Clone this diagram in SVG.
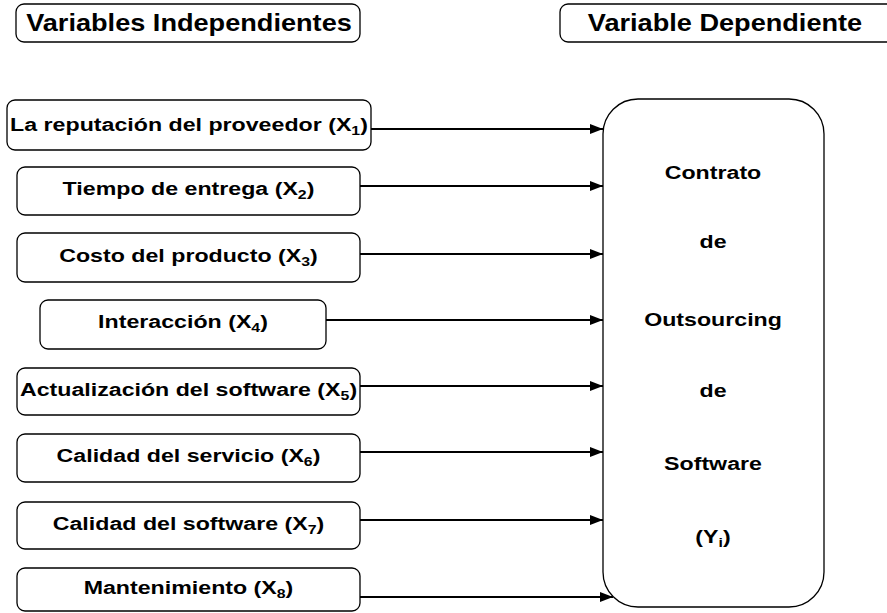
<svg xmlns="http://www.w3.org/2000/svg" width="887" height="613" viewBox="0 0 887 613">
<style>
.box{fill:#fff;stroke:#000;stroke-width:1.3}
.t{font-family:"Liberation Sans",Arial,sans-serif;font-weight:bold;font-size:19px;fill:#000;text-anchor:middle}
.h{font-size:23px}
.s{font-size:13px}
.c{stroke:#000;stroke-width:2;fill:none;marker-end:url(#ah)}
</style>
<defs>
<marker id="ah" viewBox="0 0 13 10" refX="13" refY="5" markerWidth="13" markerHeight="10" markerUnits="userSpaceOnUse" orient="auto">
<path d="M0,0 L13,5 L0,10 Z" fill="#000"/>
</marker>
</defs>
<rect width="887" height="613" fill="#fff"/>
<g id="title-indep">
<rect class="box" x="16" y="4" width="344" height="38" rx="8"/>
<text class="t h" transform="translate(189 31) scale(1.18 1)">Variables Independientes</text>
</g>
<g id="title-dep">
<rect class="box" x="560" y="4" width="340" height="38" rx="8"/>
<text class="t h" transform="translate(725 31) scale(1.18 1)">Variable Dependiente</text>
</g>
<g id="connectors">
<line class="c" x1="371" y1="129" x2="603" y2="129"/>
<line class="c" x1="360" y1="186" x2="603" y2="186"/>
<line class="c" x1="360" y1="254" x2="603" y2="254"/>
<line class="c" x1="326" y1="320" x2="603" y2="320"/>
<line class="c" x1="360" y1="386" x2="603" y2="386"/>
<line class="c" x1="360" y1="452" x2="603" y2="452"/>
<line class="c" x1="360" y1="520" x2="603" y2="520"/>
<line class="c" x1="360" y1="597" x2="613" y2="597"/>
</g>
<g id="x1">
<rect class="box" x="7" y="100" width="364" height="50" rx="8"/>
<text class="t" transform="translate(189 131) scale(1.22 1)">La reputación del proveedor (X<tspan class="s" dy="4">1</tspan><tspan dy="-4">)</tspan></text>
</g>
<g id="x2">
<rect class="box" x="17" y="167" width="343" height="48" rx="8"/>
<text class="t" transform="translate(188.5 195) scale(1.22 1)">Tiempo de entrega (X<tspan class="s" dy="4">2</tspan><tspan dy="-4">)</tspan></text>
</g>
<g id="x3">
<rect class="box" x="17" y="233" width="343" height="49" rx="8"/>
<text class="t" transform="translate(188.5 262) scale(1.22 1)">Costo del producto (X<tspan class="s" dy="4">3</tspan><tspan dy="-4">)</tspan></text>
</g>
<g id="x4">
<rect class="box" x="40" y="300" width="286" height="49" rx="8"/>
<text class="t" transform="translate(183 328) scale(1.22 1)">Interacción (X<tspan class="s" dy="4">4</tspan><tspan dy="-4">)</tspan></text>
</g>
<g id="x5">
<rect class="box" x="17" y="368" width="343" height="47" rx="8"/>
<text class="t" transform="translate(188.5 396) scale(1.22 1)">Actualización del software (X<tspan class="s" dy="4">5</tspan><tspan dy="-4">)</tspan></text>
</g>
<g id="x6">
<rect class="box" x="17" y="434" width="343" height="48" rx="8"/>
<text class="t" transform="translate(188.5 462) scale(1.22 1)">Calidad del servicio (X<tspan class="s" dy="4">6</tspan><tspan dy="-4">)</tspan></text>
</g>
<g id="x7">
<rect class="box" x="17" y="502" width="343" height="47" rx="8"/>
<text class="t" transform="translate(188.5 530) scale(1.22 1)">Calidad del software (X<tspan class="s" dy="4">7</tspan><tspan dy="-4">)</tspan></text>
</g>
<g id="x8">
<rect class="box" x="17" y="568" width="343" height="43" rx="8"/>
<text class="t" transform="translate(188.5 594) scale(1.22 1)">Mantenimiento (X<tspan class="s" dy="4">8</tspan><tspan dy="-4">)</tspan></text>
</g>
<g id="y">
<rect class="box" x="603" y="99" width="221" height="508" rx="35"/>
<text class="t" transform="translate(713 179) scale(1.22 1)">Contrato</text>
<text class="t" transform="translate(713 248) scale(1.22 1)">de</text>
<text class="t" transform="translate(713 326) scale(1.22 1)">Outsourcing</text>
<text class="t" transform="translate(713 397) scale(1.22 1)">de</text>
<text class="t" transform="translate(713 470) scale(1.22 1)">Software</text>
<text class="t" transform="translate(713 543) scale(1.22 1)">(Y<tspan class="s" dy="4">i</tspan><tspan dy="-4">)</tspan></text>
</g>
</svg>
